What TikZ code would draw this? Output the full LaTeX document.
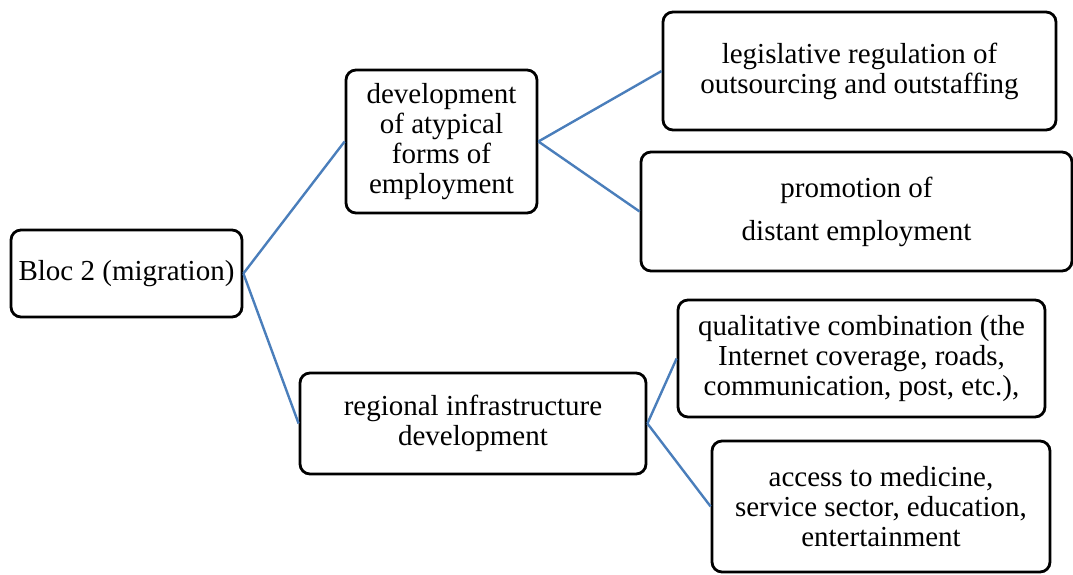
\documentclass[tikz,border=0pt]{standalone}
\usepackage{fontspec}
\setmainfont{Liberation Serif}
\usepackage{tikz}
\usetikzlibrary{positioning}
\definecolor{linkblue}{RGB}{74,126,187}
\tikzset{block/.style = {draw, line width = 2.8pt, rounded corners = 10pt,
                         align = center, inner sep = 0,
                         font = \fontsize{29}{30}\selectfont}}
\tikzset{link/.style = {draw = linkblue, line width = 2.4pt}}

\begin{document}
\begin{tikzpicture}[x = 1pt, y = 1pt]
    \useasboundingbox (0, 0) rectangle (1073, -574);
    \node [block, minimum width = 231, minimum height = 87] (bloc) at (126.5, -273.5) {Bloc 2 (migration)};
    \node [block, minimum width = 191, minimum height = 143] (atyp) at (441.5, -141.5) {development\\of atypical\\forms of\\employment};
    \node [block, minimum width = 346, minimum height = 101] (infra) at (473, -423.5) {regional infrastructure\\development};
    \node [block, minimum width = 393, minimum height = 118] (legis) at (859.5, -71) {legislative regulation of\\outsourcing and outstaffing};
    \node [block, minimum width = 431, minimum height = 119] (distant) at (856.5, -211.5) {promotion of\\[13pt]distant employment};
    \node [block, minimum width = 367, minimum height = 117] (qual) at (861.5, -358.5) {qualitative combination (the\\Internet coverage, roads,\\communication, post, etc.),};
    \node [block, minimum width = 338, minimum height = 131] (access) at (881, -506.5) {access to medicine,\\service sector, education,\\entertainment};
    \draw [link] (bloc.east) -- (atyp.west);
    \draw [link] (bloc.east) -- (infra.west);
    \draw [link] (atyp.east) -- (legis.west);
    \draw [link] (atyp.east) -- (distant.west);
    \draw [link] (infra.east) -- (qual.west);
    \draw [link] (infra.east) -- (access.west);
\end{tikzpicture}
\end{document}
